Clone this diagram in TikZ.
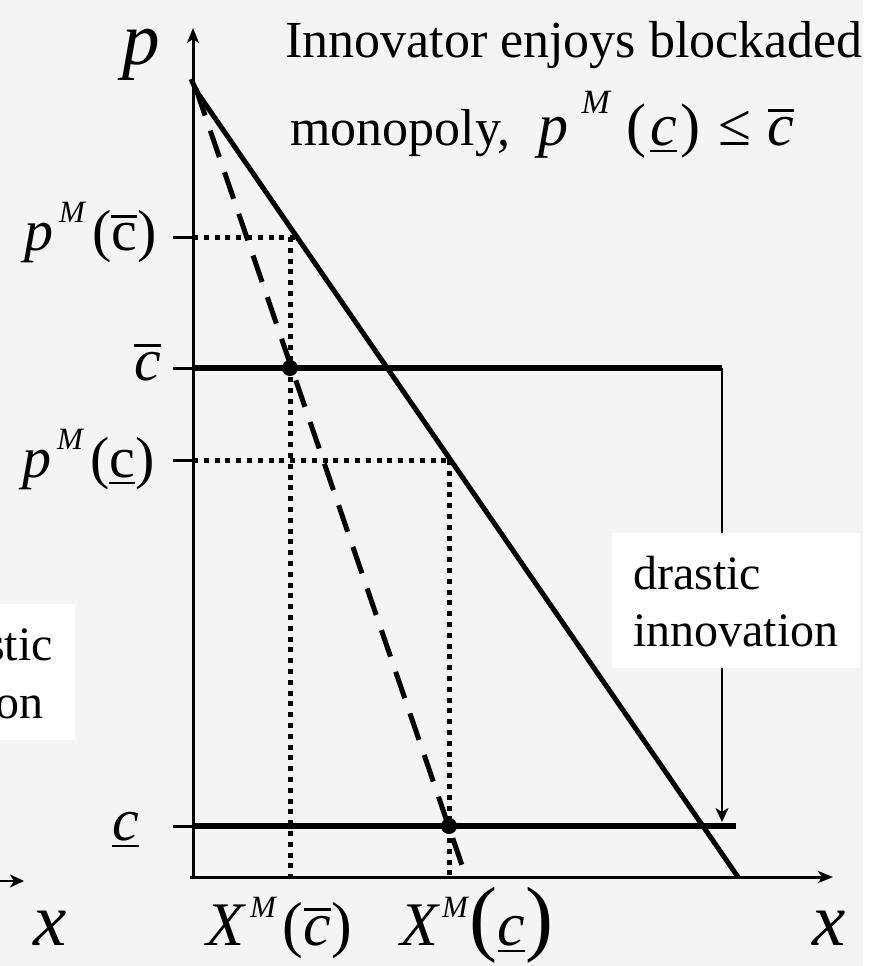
\documentclass[tikz,border=0pt]{standalone}
\usepackage{fontspec}
\setmainfont{Liberation Serif}
\usetikzlibrary{arrows.meta}
\definecolor{bg}{RGB}{244,244,244}
\newcommand\fs[1]{\fontsize{#1}{#1}\selectfont}
\newcommand\ovl[1]{\vbox{\hrule height 2.5pt\kern 5pt\hbox{#1}}}
\newcommand\unl[1]{\vtop{\hbox{#1}\kern 4pt\hrule height 2.5pt}}
\tikzset{
  axisline/.style={line width=3pt,-{Stealth[length=15pt,width=12pt,inset=4pt]}},
  costline/.style={line width=6pt},
  demandline/.style={line width=5pt,line join=round},
  mrline/.style={line width=5pt,dash pattern=on 28pt off 16pt},
  dotline/.style={line width=5pt,dash pattern=on 5pt off 5.8pt},
  tickline/.style={line width=3pt},
  eqdot/.style={circle,fill=black,inner sep=0pt,minimum size=16pt},
  lab/.style={inner sep=0pt,anchor=base west},
  labr/.style={inner sep=0pt,anchor=base east},
  whitebox/.style={fill=white,inner sep=0pt,anchor=north west},
  drastarrow/.style={line width=2.5pt,-{Stealth[length=14pt,width=13pt,inset=4pt]}},
}
\begin{document}
\begin{tikzpicture}[x=1pt,y=-1pt]
\path[use as bounding box] (0,0) rectangle (887,966);
\fill[white] (0,0) rectangle (887,966);
\fill[bg] (0,0) rectangle (863,966);
% coordinates
\coordinate (O) at (193,877);
\coordinate (Xs) at (190,877);
\coordinate (Ytop) at (193,28);
\coordinate (Xend) at (833,877);
\coordinate (A1) at (193,237); \coordinate (A2) at (298,237);
\coordinate (V1t) at (290,237); \coordinate (V1b) at (290,877);
\coordinate (B1) at (193,460); \coordinate (B2) at (451,460);
\coordinate (V2t) at (449,460); \coordinate (V2b) at (449,877);
\coordinate (CB1) at (193,368); \coordinate (CB2) at (722,368);
\coordinate (CL1) at (193,826); \coordinate (CL2) at (736,826);
\coordinate (Arrb) at (722,822);
\coordinate (Dh) at (191,79); \coordinate (Dt) at (197,92); \coordinate (Db) at (738,877);
\coordinate (Mt) at (196,89); \coordinate (Mb) at (466,877);
% dotted guides
\draw[dotline] (A1) -- (A2);
\draw[dotline] (V1t) -- (V1b);
\draw[dotline] (B1) -- (B2);
\draw[dotline] (V2t) -- (V2b);
% cost lines
\draw[costline] (CB1) -- (CB2);
\draw[costline] (CL1) -- (CL2);
% demand and MR
\draw[demandline] (Dh) -- (Dt) -- (Db);
\draw[mrline] (Mt) -- (Mb);
% axes
\draw[axisline] (Xs) -- (Xend);
\draw[axisline] (O) -- (Ytop);
% ticks
\foreach \yy in {237,368,460,826} \draw[tickline] (173,\yy) -- (193,\yy);
% dots
\node[eqdot] (E1) at (290,368) {};
\node[eqdot] (E2) at (449,826) {};
% drastic arrow
\draw[drastarrow] (CB2) -- (Arrb);
% boxes
\node[whitebox,minimum width=248pt,minimum height=135pt] (dbox) at (612,533) {};
\node[lab,font=\fs{48}] (dr1) at (633,589) {drastic};
\node[lab,font=\fs{48}] (dr2) at (633,646) {innovation};
\node[whitebox,minimum width=75pt,minimum height=136pt] (lbox) at (0,604) {};
\node[labr,font=\fs{48}] (ls1) at (53,660) {stic};
\node[labr,font=\fs{48}] (ls2) at (44,718) {on};
% left fragment arrow and x
\coordinate (LA1) at (0,881); \coordinate (LA2) at (24,881);
\draw[line width=2.5pt,-{Stealth[length=14pt,width=13pt,inset=4pt]}] (LA1) -- (LA2);
\node[lab,font=\fs{75}\itshape] (xl) at (33,945) {x};
% axis labels
\node[lab,font=\fs{75}\itshape] (plab) at (122,64) {p};
\node[lab,font=\fs{75}\itshape] (xr) at (812,945) {x};
% y-axis labels
\node[lab,font=\fs{58}] (pMcb) at (24,250) {{\itshape p}\hspace{6pt}\raisebox{28pt}{\fs{31}\itshape M}\hspace{7pt}(\ovl{c})};
\node[lab,font=\fs{60}] (cb) at (134,380) {\ovl{\itshape c}};
\node[lab,font=\fs{58}] (pMcu) at (22,477) {{\itshape p}\hspace{6pt}\raisebox{28pt}{\fs{31}\itshape M}\hspace{7pt}(\unl{c})};
\node[lab,font=\fs{60}] (cu) at (112,840) {\unl{\itshape c}};
% x-axis labels
\node[lab,font=\fs{62}] (XMcb) at (206,945) {{\itshape X}\hspace{6pt}\raisebox{28pt}{\fs{31}\itshape M}\hspace{7pt}(\ovl{\itshape c})};
\node[lab,font=\fs{62}] (XMcu) at (400,945) {{\itshape X}\hspace{4pt}\raisebox{28pt}{\fs{31}\itshape M}\hspace{2pt}{\fs{84}(}\unl{\itshape c}{\fs{84})}};
% title
\node[lab,font=\fs{52}] (t1) at (285,57) {Innovator enjoys blockaded};
\node[lab,font=\fs{52}] (t2) at (290,145) {monopoly,\hspace{28pt}\fs{60}{\itshape p}\hspace{13pt}\raisebox{32pt}{\fs{34}\itshape M}\hspace{16pt}(\hspace{4pt}\unl{\itshape c}\hspace{4pt})\hspace{18pt}≤\hspace{16pt}\ovl{\itshape c}};
\end{tikzpicture}
\end{document}
